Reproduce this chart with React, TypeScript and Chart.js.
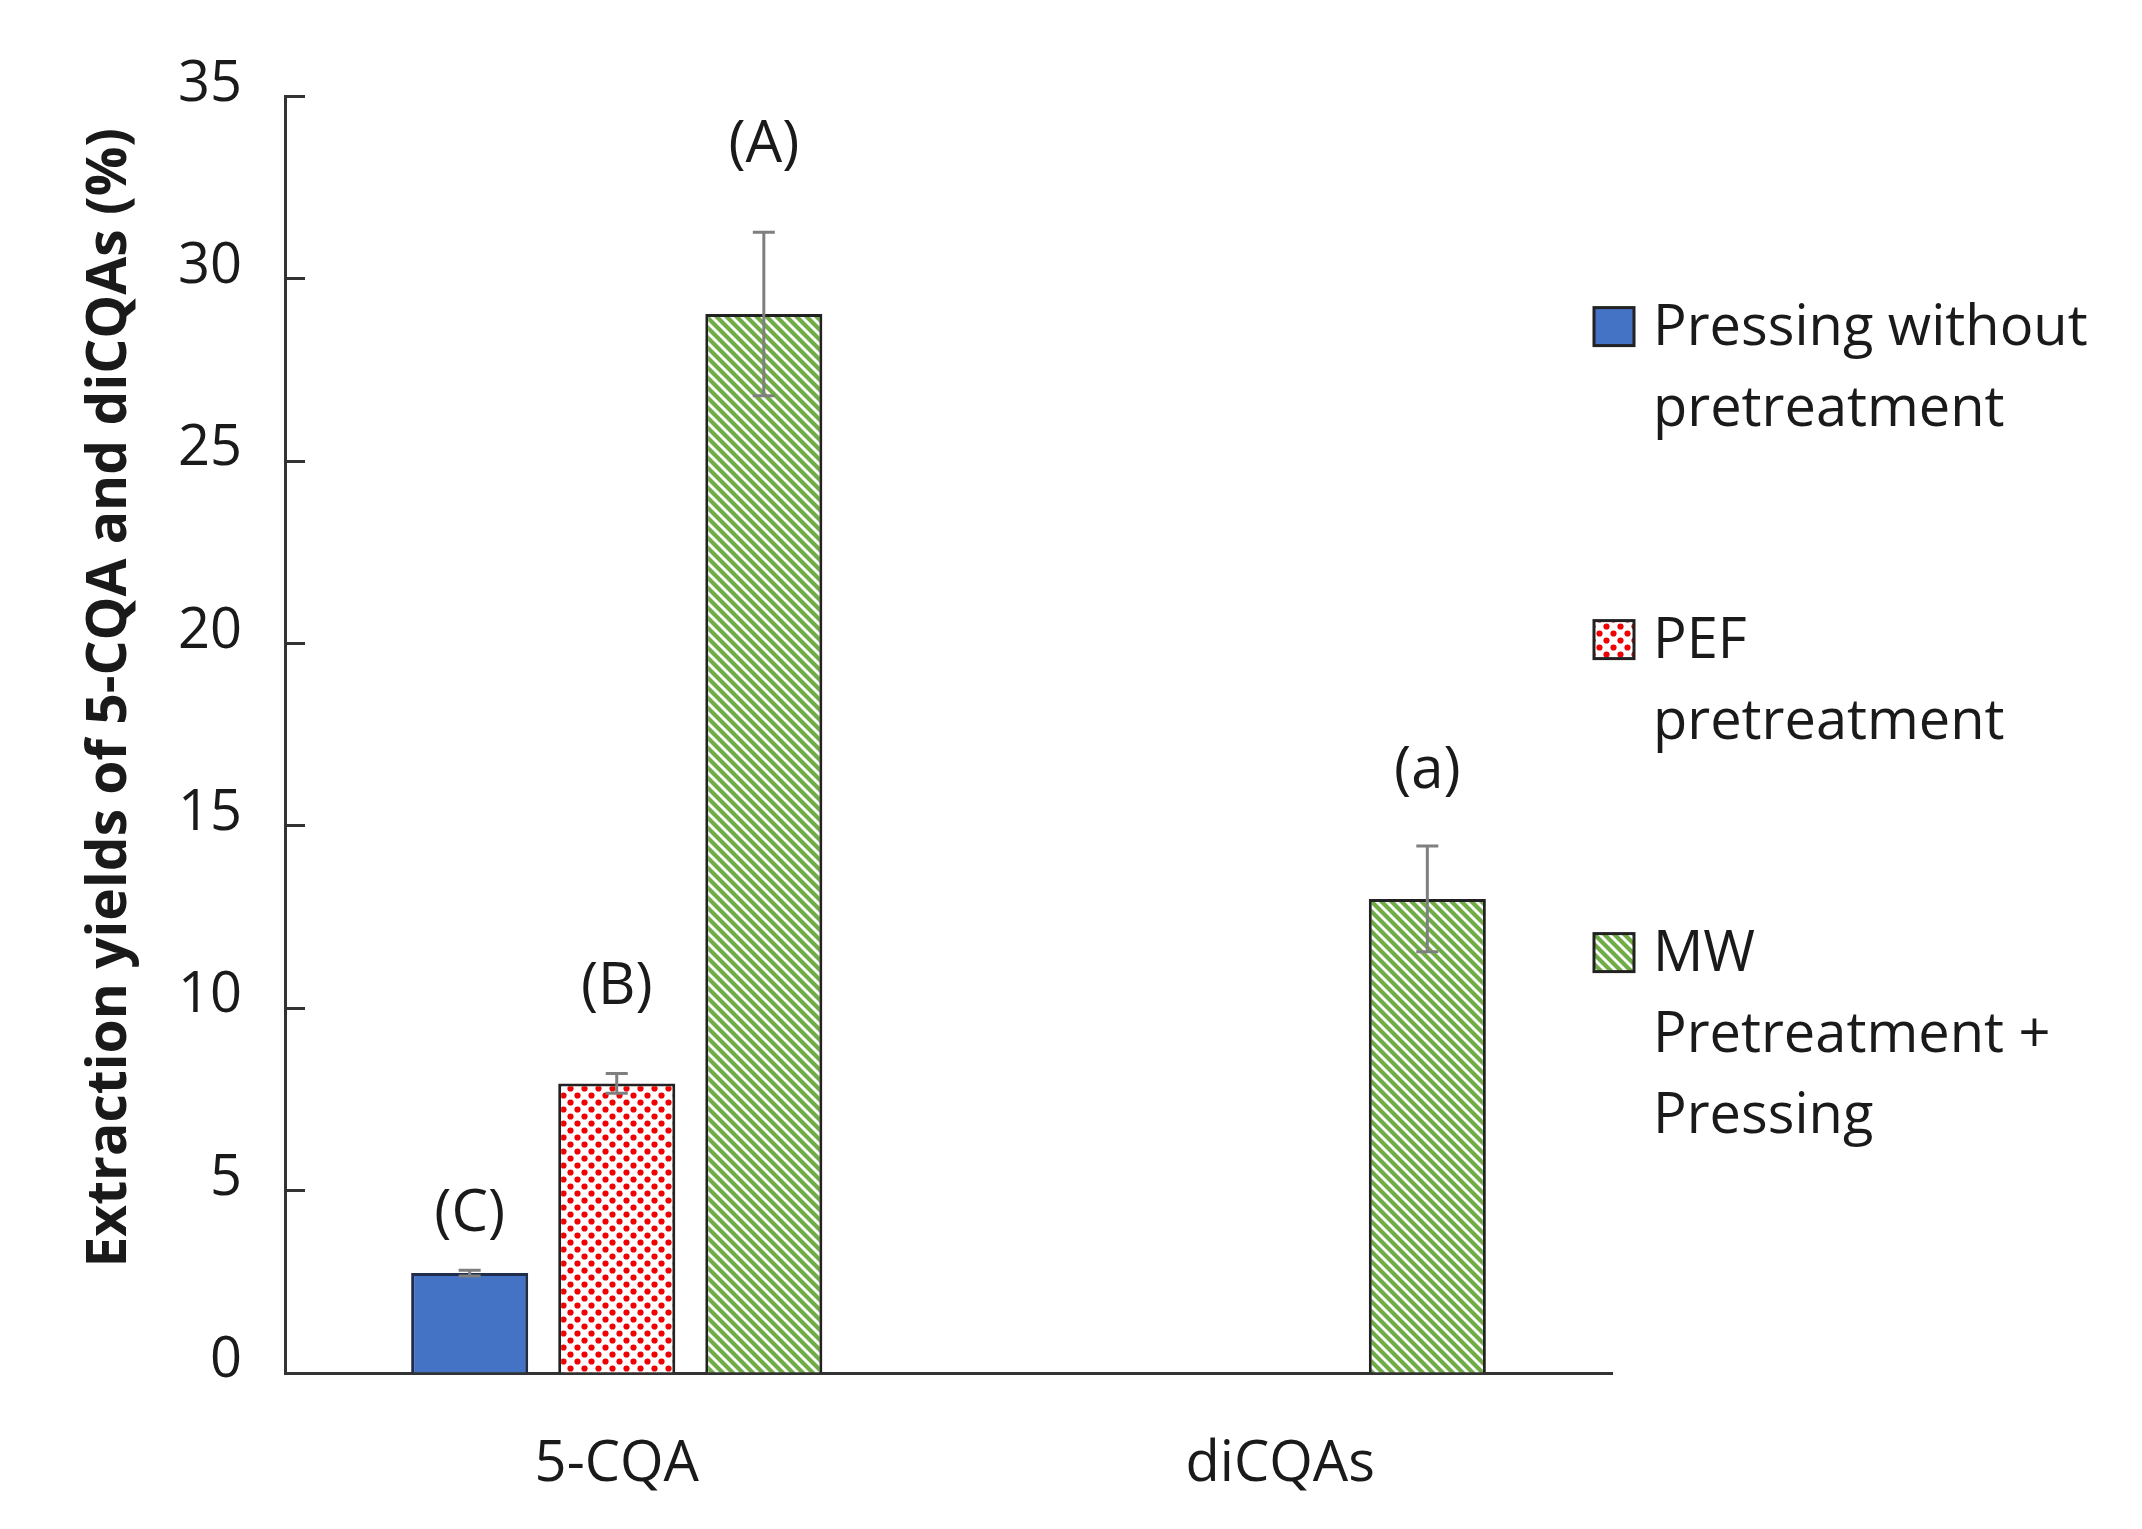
import { useEffect, useRef } from "react"
import { Chart, registerables } from "chart.js"

Chart.register(...registerables)

const categories = ["5-CQA", "diCQAs"]

// one value per category, null where the series has no bar
const pressingValues = [2.74, null]
const pressingErrors = [0.08, null]
const pefValues = [7.94, null]
const pefErrors = [0.27, null]
const mwValues = [29.04, 13.0]
const mwErrors = [2.24, 1.45]

// significance letters above bars and the value where they sit
const pressingLetters = ["(C)", null]
const pressingLetterY = [4.35, null]
const pefLetters = ["(B)", null]
const pefLetterY = [10.56, null]
const mwLetters = ["(A)", "(a)"]
const mwLetterY = [33.65, 16.5]

const legendLines = [
  ["Pressing without", "pretreatment"],
  ["PEF", "pretreatment"],
  ["MW", "Pretreatment +", "Pressing"],
]

const yMin = 0
const yMax = 35
const yStep = 5
const yTitle = "Extraction yields of 5-CQA and diCQAs (%)"

const FONT = '"Open Sans", "DejaVu Sans", sans-serif'
const TEXT = "#1a1a1a"
const AXIS = "#333333"

function dotPattern(): CanvasPattern {
  const s = 14
  const c = document.createElement("canvas")
  c.width = s
  c.height = s
  const g = c.getContext("2d")!
  g.fillStyle = "#ffffff"
  g.fillRect(0, 0, s, s)
  g.fillStyle = "#f00000"
  for (const [x, y] of [[3.5, 3.5], [10.5, 10.5]]) {
    g.beginPath()
    g.arc(x, y, 3.1, 0, Math.PI * 2)
    g.fill()
  }
  return g.createPattern(c, "repeat")!
}

function stripePattern(): CanvasPattern {
  const s = 10
  const c = document.createElement("canvas")
  c.width = s
  c.height = s
  const g = c.getContext("2d")!
  g.fillStyle = "#ffffff"
  g.fillRect(0, 0, s, s)
  g.strokeStyle = "#70ad47"
  g.lineWidth = 4.2
  for (const k of [-1, 0, 1]) {
    g.beginPath()
    g.moveTo(-s, -s + k * s)
    g.lineTo(2 * s, 2 * s + k * s)
    g.stroke()
  }
  return g.createPattern(c, "repeat")!
}

export default function App() {
  const chartRef = useRef<HTMLCanvasElement>(null)
  const chartInstance = useRef<Chart | null>(null)

  useEffect(() => {
    if (!chartRef.current) return
    if (chartInstance.current) chartInstance.current.destroy()
    const ctx = chartRef.current.getContext("2d")
    if (!ctx) return

    const fills: (string | CanvasPattern)[] = ["#4472c4", dotPattern(), stripePattern()]
    const errorSets = [pressingErrors, pefErrors, mwErrors]
    const letterSets = [pressingLetters, pefLetters, mwLetters]
    const letterYSets = [pressingLetterY, pefLetterY, mwLetterY]

    const decorations = {
      id: "decorations",
      afterDatasetsDraw(chart: Chart) {
        const c = chart.ctx
        const y = chart.scales.y
        c.save()
        // error bars
        chart.data.datasets.forEach((ds, d) => {
          const meta = chart.getDatasetMeta(d)
          meta.data.forEach((bar: any, i) => {
            const v = ds.data[i] as number | null
            const e = errorSets[d][i]
            if (v == null || e == null) return
            const yTop = y.getPixelForValue(v + e)
            const yBot = y.getPixelForValue(v - e)
            c.strokeStyle = "#7f7f7f"
            c.lineWidth = 3
            c.beginPath()
            c.moveTo(bar.x, yTop)
            c.lineTo(bar.x, yBot)
            c.moveTo(bar.x - 11, yTop)
            c.lineTo(bar.x + 11, yTop)
            c.moveTo(bar.x - 11, yBot)
            c.lineTo(bar.x + 11, yBot)
            c.stroke()
          })
        })
        // letters
        c.fillStyle = TEXT
        c.font = `58px ${FONT}`
        c.textAlign = "center"
        c.textBaseline = "middle"
        chart.data.datasets.forEach((_ds, d) => {
          const meta = chart.getDatasetMeta(d)
          meta.data.forEach((bar: any, i) => {
            const t = letterSets[d][i]
            const ly = letterYSets[d][i]
            if (t == null || ly == null) return
            c.fillText(t, bar.x, y.getPixelForValue(ly))
          })
        })
        c.restore()
      },
      afterDraw(chart: Chart) {
        const c = chart.ctx
        const area = chart.chartArea
        c.save()
        // y axis title
        c.font = `bold 100px ${FONT}`
        const w = c.measureText(yTitle).width
        const size = (100 * 1140) / w
        c.font = `bold ${size}px ${FONT}`
        c.fillStyle = TEXT
        c.textAlign = "center"
        c.textBaseline = "middle"
        c.translate(110, (area.top + area.bottom) / 2 - 37)
        c.rotate(-Math.PI / 2)
        c.fillText(yTitle, 0, 0)
        c.restore()

        // legend
        c.save()
        c.font = `56px ${FONT}`
        c.textAlign = "left"
        c.textBaseline = "alphabetic"
        legendLines.forEach((lines, k) => {
          const base = area.top + 248 + k * 313
          const bx = area.right - 18
          c.fillStyle = fills[k] as any
          c.fillRect(bx, base - 37, 40, 38)
          c.strokeStyle = "#222"
          c.lineWidth = 3
          c.strokeRect(bx, base - 37, 40, 38)
          c.fillStyle = TEXT
          lines.forEach((line, j) => {
            c.fillText(line, area.right + 41, base + j * 81)
          })
        })
        c.restore()
      },
    }

    chartInstance.current = new Chart(ctx, {
      type: "bar",
      data: {
        labels: categories,
        datasets: [
          { label: legendLines[0].join(" "), data: pressingValues, backgroundColor: fills[0] as any, borderColor: "#1f2d4a" },
          { label: legendLines[1].join(" "), data: pefValues, backgroundColor: fills[1] as any },
          { label: legendLines[2].join(" "), data: mwValues, backgroundColor: fills[2] as any },
        ],
      },
      options: {
        animation: false,
        responsive: true,
        maintainAspectRatio: false,
        layout: { padding: { top: 93, right: 530, left: 0, bottom: 0 } },
        datasets: {
          bar: {
            borderColor: "#222222",
            borderWidth: 3,
            barPercentage: 0.796,
            categoryPercentage: 0.665,
          },
        },
        scales: {
          x: {
            grid: { display: false },
            border: { display: true, color: AXIS, width: 3 },
            ticks: { color: TEXT, padding: 50, font: { family: FONT, size: 56 } },
            afterFit: (s: any) => {
              s.height = 156
            },
          },
          y: {
            min: yMin,
            max: yMax,
            grid: { drawOnChartArea: false, tickLength: -20, tickWidth: 3, tickColor: AXIS },
            border: { display: true, color: AXIS, width: 3 },
            ticks: {
              stepSize: yStep,
              padding: 63,
              labelOffset: -12,
              color: TEXT,
              font: { family: FONT, size: 56 },
            },
            afterFit: (s: any) => {
              s.width = 285
            },
          },
        },
        plugins: {
          legend: { display: false },
          tooltip: { enabled: false },
          title: { display: false },
        },
      },
      plugins: [decorations],
    })

    return () => {
      if (chartInstance.current) {
        chartInstance.current.destroy()
        chartInstance.current = null
      }
    }
  }, [])

  return (
    <div style={{ position: "absolute", left: 0, top: 0, width: 2142, height: 1529, background: "#fff" }}>
      <canvas ref={chartRef} />
    </div>
  )
}
